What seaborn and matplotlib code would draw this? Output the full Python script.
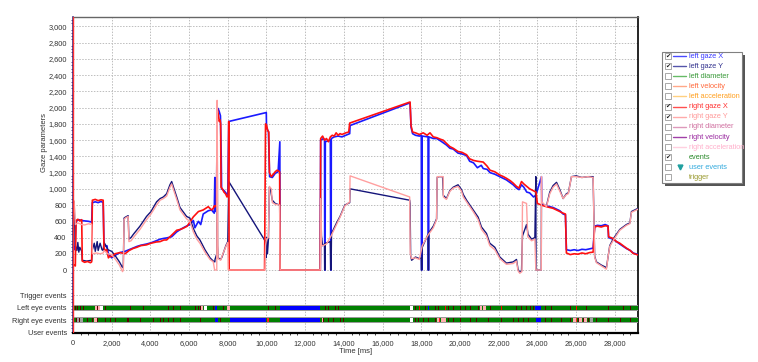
import numpy as np
import pandas as pd
import matplotlib
matplotlib.use("Agg")
import matplotlib.pyplot as plt
import matplotlib.patches as mpatches
import seaborn as sns

# ---------------- gaze samples (time in ms, value in px) ----------------
left_x_t = [0, 60, 100, 150, 300, 450, 600, 800, 965, 1000, 1150, 1300, 1450, 1560, 1600, 1700, 1750, 1830,
            1900, 2000, 2170, 2430, 2690, 2900, 3100, 3300, 3500, 3800, 4030, 4300, 4500, 4700, 4840, 5100,
            5360, 5550, 5700, 5900, 6050, 6220, 6300, 6480, 6600, 6730, 6990, 7160, 7300, 7330, 7345, 7420,
            7450, 7500, 7560, 7620, 7660, 7680, 7800, 7900, 8000, 8050, 9990, 10000, 10100, 10140, 10160,
            10300, 10450, 10600, 10690, 10700, 12780, 12800, 12950, 13000, 13010, 13030, 13040, 13300, 13320,
            13340, 13350, 13500, 13700, 13900, 14100, 14300, 14320, 17420, 17470, 17550, 17700, 17900, 18000,
            18010, 18030, 18040, 18350, 18360, 18380, 18390, 18620, 18800, 19000, 19300, 19480, 19650, 19900,
            20100, 20340, 20500, 20700, 20900, 21100, 21200, 21400, 21550, 21800, 22060, 22400, 22750, 22920,
            23050, 23180, 23300, 23450, 23600, 23800, 23920, 24210, 24230, 24470, 24640, 24810, 24990, 25160,
            25330, 25450, 25500, 25700, 25900, 26100, 26300, 26500, 26700, 26880, 26960, 27100, 27300, 27500,
            27650, 27680, 27900, 28090, 28260, 28600, 28800, 28950, 29205]
left_x_v = [250, 280, 250, 600, 620, 610, 605, 600, 590, 830, 840, 830, 845, 830, 330, 290, 300, 200,
            180, 150, 180, 215, 230, 250, 270, 290, 305, 320, 335, 360, 380, 390, 395, 410,
            470, 500, 520, 545, 560, 610, 520, 600, 560, 690, 730, 740, 700, 1140, 720, 780,
            1980, 1990, 1950, 1900, 1400, 1000, 980, 950, 920, 1830, 1940, 1760, 1700, 1300, 1150,
            1140, 1190, 1210, 1580, 0, 0, 1600, 1620, 1600, 0, 0, 1580, 1600, 0,
            0, 1620, 1640, 1650, 1640, 1660, 1680, 1780, 2060, 1760, 1680, 1660, 1650, 1660,
            0, 0, 1650, 1640, 0, 0, 1640, 1620, 1620, 1590, 1540, 1500, 1490, 1440,
            1430, 1410, 1340, 1320, 1260, 1290, 1250, 1240, 1200, 1180, 1150, 1110, 1050, 1010,
            990, 1050, 1020, 960, 950, 900, 920, 1150, 810, 790, 780, 770, 750, 730,
            690, 680, 250, 240, 250, 240, 255, 250, 260, 270, 540, 550, 545, 560,
            545, 400, 380, 350, 320, 265, 240, 210, 190]

left_y_t = [0, 60, 120, 200, 250, 300, 350, 450, 480, 700, 965, 1000, 1100, 1150, 1250, 1300, 1400, 1500,
            1560, 1600, 1700, 1800, 2000, 2200, 2400, 2560, 2600, 2640, 2700, 2850, 2890, 3000, 3120, 3460,
            3800, 4030, 4320, 4500, 4670, 4840, 5010, 5100, 5180, 5360, 5530, 5870, 6040, 6220, 6400, 6560,
            6820, 7080, 7250, 7330, 7340, 7430, 7450, 7470, 7500, 7630, 7700, 7900, 8000, 8050, 9950, 9970,
            10000, 10050, 10100, 10150, 10200, 10300, 10450, 10680, 10700, 12780, 12800, 12840, 12900, 13000,
            13010, 13030, 13040, 13300, 13320, 13340, 13360, 13620, 13800, 14050, 14300, 14320, 17400, 17420,
            17450, 17500, 17700, 17900, 18000, 18010, 18030, 18050, 18350, 18360, 18380, 18390, 18620, 18790,
            18820, 18900, 19100, 19140, 19300, 19480, 19650, 19900, 20080, 20170, 20340, 20510, 20680, 20940,
            21110, 21370, 21540, 21800, 22060, 22400, 22750, 22920, 23000, 23090, 23180, 23230, 23440, 23520,
            23700, 23870, 23920, 23930, 24200, 24210, 24470, 24640, 24810, 24990, 25160, 25330, 25500, 25600,
            25760, 26000, 26300, 26600, 26880, 26960, 27050, 27310, 27570, 27650, 27740, 27910, 28260, 28600,
            28780, 28860, 29205]
left_y_v = [850, 840, 300, 240, 340, 220, 280, 230, 120, 110, 120, 250, 330, 230, 350, 240, 330, 250,
            240, 340, 300, 250, 230, 170, 100, 30, 60, 640, 650, 670, 380, 400, 440, 540,
            660, 720, 840, 880, 900, 940, 1050, 1090, 1030, 900, 770, 660, 640, 510, 420, 370,
            250, 150, 110, 100, 130, 200, 2070, 300, 150, 130, 160, 300, 350, 1090, 350, 150,
            400, 200, 380, 1020, 1000, 860, 820, 800, 0, 0, 880, 420, 300, 320,
            0, 0, 330, 350, 0, 0, 450, 580, 660, 800, 830, 1000, 860, 820,
            180, 120, 160, 140, 150, 0, 0, 280, 440, 0, 0, 460, 540, 630,
            1140, 1150, 1150, 920, 880, 980, 1020, 1050, 990, 930, 860, 800, 740, 650,
            530, 450, 330, 280, 160, 85, 100, 130, 10, -30, -10, 420, 560, 440,
            380, 400, 1150, 0, 0, 800, 790, 960, 1040, 1080, 990, 880, 940, 950,
            1150, 1160, 1140, 1150, 1150, 170, 100, 60, 30, 160, 300, 380, 500, 560,
            580, 720, 760]

right_x_t = [0, 60, 120, 160, 250, 350, 450, 480, 600, 750, 900, 965, 1000, 1150, 1300, 1450, 1560, 1600,
             1650, 1740, 1830, 1900, 2000, 2170, 2430, 2690, 2900, 3100, 3300, 3500, 3800, 4030, 4300, 4500,
             4700, 4840, 5100, 5360, 5550, 5700, 5900, 6050, 6220, 6480, 6730, 6990, 7160, 7250, 7300, 7340,
             7420, 7450, 7480, 7520, 7560, 7600, 7630, 7650, 7720, 7800, 7880, 7960, 8020, 8050, 8070, 9900,
             9950, 10000, 10060, 10120, 10150, 10250, 10350, 10450, 10550, 10680, 10700, 12780, 12800, 12900,
             13000, 13100, 13200, 13300, 13400, 13500, 13600, 13700, 13800, 13900, 14100, 14250, 14300, 17420,
             17470, 17550, 17700, 17900, 18100, 18300, 18450, 18620, 18800, 19000, 19130, 19300, 19480, 19650,
             19900, 20100, 20340, 20500, 20700, 20900, 21200, 21400, 21550, 21800, 22060, 22250, 22400, 22600,
             22750, 22920, 23050, 23180, 23300, 23450, 23600, 23800, 23930, 24000, 24210, 24470, 24640, 24810,
             24990, 25160, 25330, 25450, 25500, 25700, 25900, 26100, 26300, 26500, 26700, 26880, 26960, 27100,
             27300, 27500, 27650, 27680, 27900, 28090, 28260, 28600, 28800, 28950, 29205]
right_x_v = [50, 60, 50, 610, 625, 605, 620, 110, 95, 105, 90, 100, 860, 870, 855, 865, 860, 280,
             240, 250, 150, 170, 165, 200, 215, 200, 240, 265, 280, 300, 310, 330, 345, 350,
             370, 370, 430, 490, 500, 515, 540, 595, 655, 720, 740, 780, 740, 760, 790, 780,
             800, 2000, 1960, 1900, 1830, 1850, 1800, 1020, 1000, 960, 940, 900, 910, 1830, 0, 0,
             1800, 1790, 1720, 1700, 1200, 1150, 1180, 1210, 1230, 1210, 0, 0, 1620, 1650,
             1600, 1620, 1580, 1640, 1660, 1650, 1690, 1660, 1680, 1670, 1690, 1700, 1810, 2070,
             1780, 1700, 1690, 1670, 1690, 1660, 1690, 1640, 1630, 1610, 1600, 1560, 1520, 1500,
             1460, 1450, 1420, 1370, 1350, 1340, 1330, 1280, 1230, 1210, 1170, 1150, 1130, 1100,
             1070, 1030, 1010, 1090, 1060, 1030, 1000, 975, 960, 820, 800, 780, 770, 760,
             740, 720, 700, 690, 210, 190, 200, 195, 210, 200, 215, 220, 530, 540,
             530, 545, 540, 410, 390, 350, 330, 270, 240, 205, 185]

right_y_t = [0, 60, 120, 250, 450, 600, 800, 965, 1000, 1200, 1400, 1560, 1600, 1800, 2000, 2200, 2400,
             2560, 2600, 2640, 2700, 2850, 2890, 3000, 3120, 3460, 3800, 4030, 4320, 4500, 4670, 4840, 5010,
             5100, 5180, 5360, 5530, 5870, 6040, 6220, 6400, 6560, 6820, 7080, 7250, 7320, 7430, 7450, 7480,
             7500, 7630, 7700, 7900, 8000, 8020, 9920, 9950, 10000, 10100, 10150, 10250, 10300, 10450, 10680,
             10700, 12780, 12800, 12840, 12900, 13100, 13360, 13620, 13800, 14050, 14300, 14320, 17400, 17430,
             17500, 17700, 17900, 18050, 18350, 18620, 18790, 18820, 19130, 19140, 19300, 19480, 19650, 19900,
             20080, 20170, 20340, 20510, 20680, 20940, 21110, 21370, 21540, 21800, 22060, 22400, 22750, 22920,
             23000, 23090, 23200, 23230, 23440, 23500, 23700, 23870, 23920, 24200, 24210, 24230, 24470, 24640,
             24810, 24990, 25160, 25330, 25500, 25600, 25760, 26000, 26300, 26600, 26880, 26960, 27050, 27310,
             27570, 27650, 27740, 27910, 28260, 28600, 28780, 28860, 29205]
right_y_v = [860, 850, 560, 580, 560, 555, 570, 560, 200, 210, 200, 210, 240, 200, 190, 130, 60,
             -20, 0, 620, 640, 660, 350, 360, 400, 500, 620, 690, 800, 860, 880, 910, 1020,
             1060, 1000, 870, 740, 630, 600, 470, 380, 330, 220, 130, 100, 0, 0, 2090, 400,
             140, 120, 170, 290, 340, 0, 0, 300, 380, 400, 1030, 1000, 830, 810, 800,
             0, 0, 880, 300, 300, 320, 430, 560, 650, 790, 840, 1160, 900, 200,
             140, 150, 130, 300, 430, 520, 620, 1150, 1150, 900, 870, 970, 1010, 1030,
             970, 900, 840, 780, 720, 620, 500, 420, 300, 250, 140, 70, 80, 110,
             -10, -40, -20, 840, 820, 410, 360, 380, 0, 0, 1150, 840, 780, 940,
             1020, 1060, 970, 880, 930, 940, 1150, 1150, 1140, 1150, 1140, 160, 90, 50,
             10, 160, 290, 360, 490, 550, 570, 710, 750]

# ---------------- eye events (ms) ----------------
left_blinks = [(7340, 120), (10700, 2060), (18330, 60), (23880, 330)]
left_pink = [(1140, 110), (1300, 90), (6440, 80), (6600, 100), (7950, 160), (21030, 90), (21200, 170)]
left_gaps = [(1400, 160), (6790, 110), (17410, 140)]
left_sacc = [103, 224, 362, 500, 1223, 1653, 2945, 3634, 4925, 5183, 5528, 6303, 6475, 6561, 6647, 6699,
             7250, 7766, 10091, 10263, 10435, 12846, 13019, 13191, 13363, 13535, 13707, 13879, 17668, 18012,
             18184, 18529, 18701, 18873, 19045, 19218, 19390, 19648, 19993, 20251, 20509, 20940, 21542, 22145,
             22920, 23178, 23437, 23609, 23781, 24384, 24728, 25675, 26020, 26536, 27655, 28430, 28775]
left_red = [17892, 19218, 22145, 26020]

right_blinks = [(7340, 140), (8110, 1890), (10700, 2060), (23950, 260)]
right_pink = [(1100, 120), (12850, 60), (18790, 110), (19000, 300), (25850, 150), (26100, 200), (26400, 140)]
right_gray = [(224, 310), (26710, 170)]
right_gaps = [(17410, 140)]
right_red = [(10005, 140), (18900, 80), (25980, 60)]
right_sacc = [155, 293, 741, 965, 1223, 1653, 1912, 2170, 2772, 2859, 3461, 4150, 4495, 4667, 4925, 5183,
              5528, 5872, 6561, 7422, 7594, 7939, 12932, 13191, 13449, 13621, 13793, 13966, 17668, 17840,
              18098, 18357, 18529, 18701, 19390, 19648, 19993, 20509, 20853, 21456, 22145, 22748, 23006,
              23265, 23523, 24384, 24728, 25245, 25675, 26106, 26364, 26622, 27053, 27655, 28258, 28775]

# ---------------- axis text ----------------
gaze_ticks = list(range(0, 3001, 200))
row_names = ["User events", "Right eye events", "Left eye events", "Trigger events"]
row_pos = [-764, -616, -468, -308]
time_ticks = list(range(0, 28001, 2000))

legend_items = [
    ("left gaze X", True, "#4a4aff", "#3a3aff"),
    ("left gaze Y", True, "#5555aa", "#34348f"),
    ("left diameter", False, "#66bb66", "#3a9a3a"),
    ("left velocity", False, "#ffa888", "#ff6a3d"),
    ("left acceleration", False, "#ffd080", "#ffa020"),
    ("right gaze X", True, "#ff5050", "#ff3030"),
    ("right gaze Y", True, "#ffaaaa", "#ff9a9a"),
    ("right diameter", False, "#dd99bb", "#d070a0"),
    ("right velocity", False, "#a040a8", "#9a2aa0"),
    ("right acceleration", False, "#ffd0e0", "#ffb0cc"),
    ("events", True, None, "#2e8b2e"),
    ("user events", False, "marker", "#33aadd"),
    ("trigger", False, None, "#9a9a30"),
]

sns.set_style("white")
plt.rcParams["font.family"] = ["Liberation Sans", "DejaVu Sans"]

fig = plt.figure(figsize=(7.58, 3.62), dpi=100)
ax = fig.add_axes([73 / 758, 29 / 362, 565 / 758, 316 / 362])

series = [
    ("left gaze X", left_x_t, left_x_v, "#1a1aff", 1.2),
    ("left gaze Y", left_y_t, left_y_v, "#14147a", 1.0),
    ("right gaze X", right_x_t, right_x_v, "#ff1010", 1.2),
    ("right gaze Y", right_y_t, right_y_v, "#ff9f9f", 1.0),
]
for name, tt, vv, col, lw in series:
    df = pd.DataFrame({"t": tt, "v": vv})
    sns.lineplot(data=df, x="t", y="v", ax=ax, color=col, linewidth=lw,
                 estimator=None, sort=False, legend=False, zorder=4)

# event rows
bar_h = 60
def bars(center, spans, color, z=5, h=bar_h):
    ax.broken_barh(spans, (center - h / 2, h), facecolors=color, edgecolor="none", zorder=z)

for c in (-468, -616):
    bars(c, [(0, 29200)], "#9a9a9a", z=4, h=bar_h + 24)
    bars(c, [(30, 29170)], "#008000", z=5)

bars(-468, left_gaps, "#ffffff", z=6)
bars(-468, left_pink, "#ffb0b0", z=6)
bars(-468, left_blinks, "#0000ff", z=6)
bars(-468, [(s, 45) for s in left_sacc], "#5a0000", z=7)
bars(-468, [(s, 45) for s in left_red], "#ff0000", z=7)

bars(-616, right_gaps, "#ffffff", z=6)
bars(-616, right_gray, "#a0a0a0", z=6)
bars(-616, right_pink, "#ffb0b0", z=6)
bars(-616, right_blinks, "#0000ff", z=6)
bars(-616, [(s, 45) for s in right_sacc], "#5a0000", z=7)
bars(-616, right_red, "#ff2020", z=7)

ax.axvline(15, color="#ff3030", linewidth=1.0, zorder=8)

ax.set_xlim(0, 29200)
ax.set_ylim(-776, 3117)

yt = row_pos + gaze_ticks
ylab = row_names + [f"{v:,}" for v in gaze_ticks]
ax.set_yticks(yt)
ax.set_yticklabels(ylab)
ax.set_xticks(time_ticks)
ax.set_xticklabels([f"{v:,}" for v in time_ticks])
ax.set_yticks(np.arange(-760, 3117, 40), minor=True)
ax.set_xticks(np.arange(0, 29200, 400), minor=True)

ax.grid(True, which="major", color="#bdbdbd", linestyle=(0, (1.5, 1.5)), linewidth=0.7, zorder=0)
ax.set_axisbelow(True)

ax.tick_params(axis="y", which="major", length=3, width=0.8, color="#4a2a7a",
               labelsize=5.3, labelcolor="#333333", pad=1.5)
ax.tick_params(axis="y", which="minor", length=1.5, width=0.6, color="#4a2a7a", left=True)
ax.tick_params(axis="x", which="major", length=3, width=0.8, color="#222222",
               labelsize=5.3, labelcolor="#333333", pad=2)
ax.tick_params(axis="x", which="minor", length=1.5, width=0.6, color="#222222", bottom=True)

ax.spines["left"].set_color("#4a2a7a")
ax.spines["left"].set_linewidth(1.2)
ax.spines["top"].set_color("#666666")
ax.spines["top"].set_linewidth(1.0)
ax.spines["right"].set_color("#000000")
ax.spines["right"].set_linewidth(1.2)
ax.spines["bottom"].set_color("#000000")
ax.spines["bottom"].set_linewidth(1.6)

ax.set_xlabel("Time [ms]", fontsize=5.5, color="#333333", labelpad=1)
ax.set_ylabel("")
fig.text(45 / 758, 1 - 143 / 362, "Gaze parameters", rotation=90, ha="center", va="center",
         fontsize=5.5, color="#333333")

# channel selector panel
ov = fig.add_axes([0, 0, 1, 1], zorder=10)
ov.set_xlim(0, 758)
ov.set_ylim(362, 0)
ov.axis("off")
ov.patch.set_alpha(0)
bx0, by0, bx1, by1 = 662, 52, 742, 183
ov.add_patch(mpatches.Rectangle((bx0 + 3, by0 + 3), bx1 - bx0, by1 - by0, facecolor="#555555",
                                edgecolor="none"))
ov.add_patch(mpatches.Rectangle((bx0, by0), bx1 - bx0, by1 - by0, facecolor="white",
                                edgecolor="#808080", linewidth=0.8))
row0, step = 56, 10.1
for i, (label, checked, lcol, tcol) in enumerate(legend_items):
    y = row0 + i * step
    ov.add_patch(mpatches.Rectangle((665, y - 3), 6, 6, facecolor="white", edgecolor="#9a9a9a",
                                    linewidth=0.6))
    if checked:
        ov.text(668, y + 0.3, "\u2714", fontsize=4.5, ha="center", va="center", color="#111111",
                family="DejaVu Sans")
    if lcol == "marker":
        ov.plot([679.5], [y], marker="v", markersize=3.5, color="#20a0a0", linestyle="none")
    elif lcol is not None:
        ov.plot([673, 686], [y, y], color=lcol, linewidth=1.0)
    ov.text(689, y + 0.3, label, fontsize=5.3, ha="left", va="center", color=tcol)

fig.savefig("out.png", dpi=100)
